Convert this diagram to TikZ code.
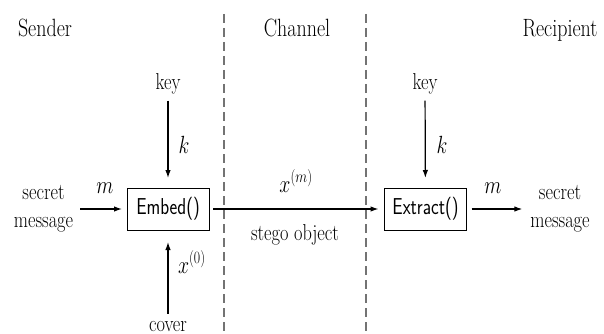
\documentclass[tikz,border=0pt]{standalone}
\usepackage{amsmath}
\usepackage{graphicx}
\usetikzlibrary{arrows.meta}

% horizontally condensed text
\newcommand{\nar}[1]{\scalebox{0.8}[1]{#1}}

\begin{document}
\begin{tikzpicture}[x=1pt,y=-1pt,
  lbl/.style={font=\fontsize{23}{28}\selectfont, inner sep=0pt, outer sep=0pt},
  head/.style={font=\fontsize{25}{30}\selectfont, inner sep=0pt},
  func/.style={draw, line width=0.9pt, minimum width=82pt, minimum height=42pt,
               inner sep=0pt, outer sep=0pt, font=\fontsize{23}{28}\sffamily},
  flow/.style={-{Latex[length=8pt,width=5.5pt]}, line width=1.2pt},
  divider/.style={black!55, line width=1.1pt, dash pattern=on 9pt off 5pt}]
\useasboundingbox (0,0) rectangle (604,334);

% zone separators
\coordinate (d1top) at (224,14);
\coordinate (d1bot) at (224,334);
\coordinate (d2top) at (366,14);
\coordinate (d2bot) at (366,334);
\draw[divider] (d1top) -- (d1bot);
\draw[divider] (d2top) -- (d2bot);

% zone headings
\node[head, anchor=base] (hsend) at (45,37)  {\nar{Sender}};
\node[head, anchor=base] (hchan) at (297,37) {\nar{Channel}};
\node[head, anchor=base] (hrecv) at (560,37) {\nar{Recipient}};

% sender side
\node[func] (embed) at (168,209) {\nar{Embed()}};
\node[lbl, anchor=base] (keyA) at (168,90) {\nar{key}};
\node[lbl, align=center] (msgA) at (43.5,209) {\nar{secret}\\\nar{message}};
\node[lbl, anchor=base] (cover) at (168,331) {\nar{cover}};

\draw[flow, shorten <=6pt, shorten >=10pt] (keyA) -- (embed);
\draw[flow, shorten <=7pt, shorten >=5pt] (msgA) -- (embed);
\draw[flow, shorten <=7pt, shorten >=12pt] (cover) -- (embed);

\node[lbl, anchor=base] (kA) at (184,153) {\nar{$k$}};
\node[lbl, anchor=base] (mA) at (105,193) {\nar{$m$}};
\node[lbl, anchor=base west] (x0) at (178,273) {\nar{$x^{(0)}$}};

% recipient side
\node[func] (extract) at (425.5,209) {\nar{Extract()}};
\node[lbl, anchor=base] (keyB) at (425,90) {\nar{key}};
\node[lbl, align=center] (msgB) at (560,209) {\nar{secret}\\\nar{message}};

\draw[flow, shorten <=6pt, shorten >=10pt] (keyB) -- (extract);
\draw[flow, shorten <=5pt, shorten >=8pt] (extract) -- (msgB);

\node[lbl, anchor=base] (kB) at (442,153) {\nar{$k$}};
\node[lbl, anchor=base] (mB) at (493,193) {\nar{$m$}};

% channel
\draw[flow, shorten <=4pt, shorten >=6pt] (embed) -- (extract);
\node[lbl, anchor=base] (xm) at (296,192) {\nar{$x^{(m)}$}};
\node[lbl, anchor=base] (stego) at (295,240) {\nar{stego object}};
\end{tikzpicture}
\end{document}
